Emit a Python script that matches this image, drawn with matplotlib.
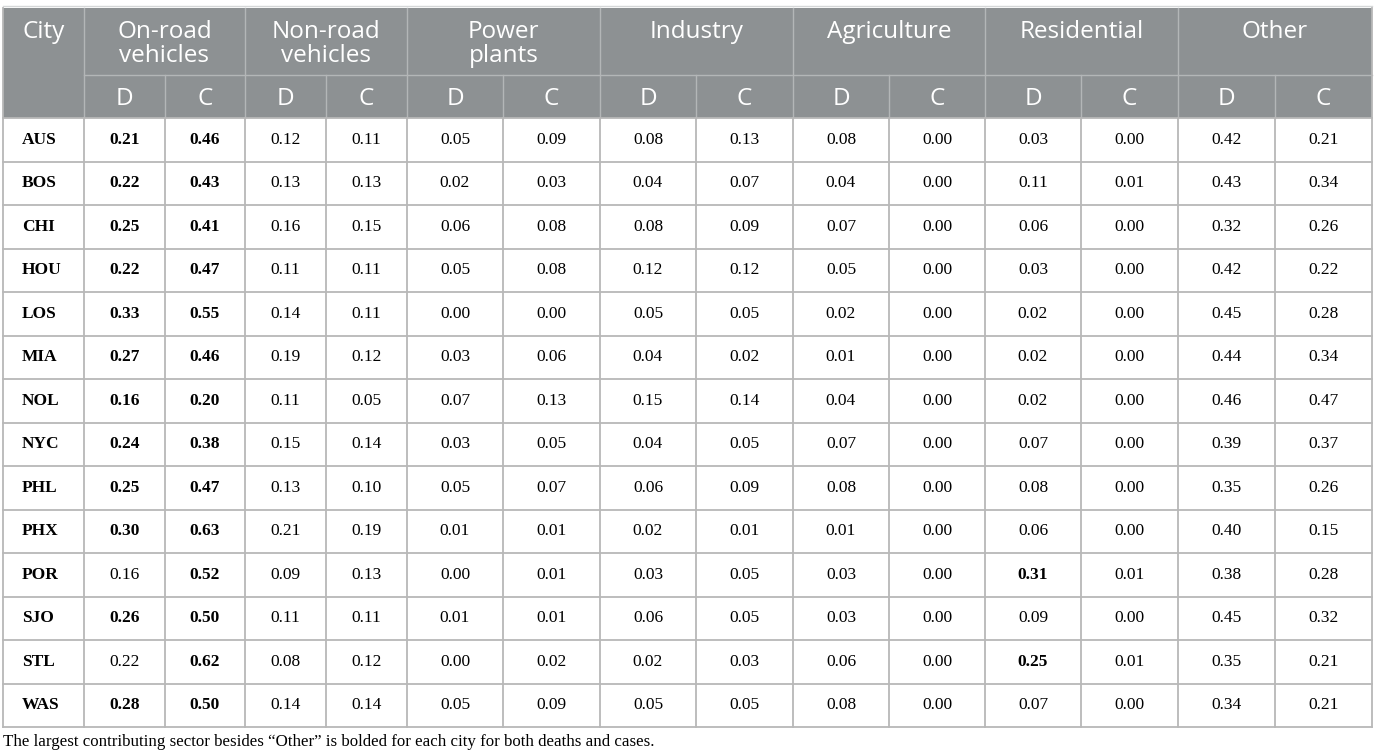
import matplotlib
matplotlib.use("Agg")
import matplotlib.pyplot as plt
from matplotlib.patches import Rectangle
import numpy as np

cities = ["AUS", "BOS", "CHI", "HOU", "LOS", "MIA", "NOL",
          "NYC", "PHL", "PHX", "POR", "SJO", "STL", "WAS"]
sectors = ["On-road\nvehicles", "Non-road\nvehicles", "Power\nplants",
           "Industry", "Agriculture", "Residential", "Other"]

# D = deaths, C = cases, one column per sector
deaths = np.array([
    [0.21, 0.12, 0.05, 0.08, 0.08, 0.03, 0.42],
    [0.22, 0.13, 0.02, 0.04, 0.04, 0.11, 0.43],
    [0.25, 0.16, 0.06, 0.08, 0.07, 0.06, 0.32],
    [0.22, 0.11, 0.05, 0.12, 0.05, 0.03, 0.42],
    [0.33, 0.14, 0.00, 0.05, 0.02, 0.02, 0.45],
    [0.27, 0.19, 0.03, 0.04, 0.01, 0.02, 0.44],
    [0.16, 0.11, 0.07, 0.15, 0.04, 0.02, 0.46],
    [0.24, 0.15, 0.03, 0.04, 0.07, 0.07, 0.39],
    [0.25, 0.13, 0.05, 0.06, 0.08, 0.08, 0.35],
    [0.30, 0.21, 0.01, 0.02, 0.01, 0.06, 0.40],
    [0.16, 0.09, 0.00, 0.03, 0.03, 0.31, 0.38],
    [0.26, 0.11, 0.01, 0.06, 0.03, 0.09, 0.45],
    [0.22, 0.08, 0.00, 0.02, 0.06, 0.25, 0.35],
    [0.28, 0.14, 0.05, 0.05, 0.08, 0.07, 0.34],
])
cases = np.array([
    [0.46, 0.11, 0.09, 0.13, 0.00, 0.00, 0.21],
    [0.43, 0.13, 0.03, 0.07, 0.00, 0.01, 0.34],
    [0.41, 0.15, 0.08, 0.09, 0.00, 0.00, 0.26],
    [0.47, 0.11, 0.08, 0.12, 0.00, 0.00, 0.22],
    [0.55, 0.11, 0.00, 0.05, 0.00, 0.00, 0.28],
    [0.46, 0.12, 0.06, 0.02, 0.00, 0.00, 0.34],
    [0.20, 0.05, 0.13, 0.14, 0.00, 0.00, 0.47],
    [0.38, 0.14, 0.05, 0.05, 0.00, 0.00, 0.37],
    [0.47, 0.10, 0.07, 0.09, 0.00, 0.00, 0.26],
    [0.63, 0.19, 0.01, 0.01, 0.00, 0.00, 0.15],
    [0.52, 0.13, 0.01, 0.05, 0.00, 0.01, 0.28],
    [0.50, 0.11, 0.01, 0.05, 0.00, 0.00, 0.32],
    [0.62, 0.12, 0.02, 0.03, 0.00, 0.01, 0.21],
    [0.50, 0.14, 0.09, 0.05, 0.00, 0.00, 0.21],
])
caption = ("The largest contributing sector besides \u201cOther\u201d is bolded "
           "for each city for both deaths and cases.")

# layout in pixel units
edges = [3, 84, 165, 245, 326, 407, 503, 600, 696, 793, 889, 985, 1081, 1178, 1275, 1372]
y_top, y_mid, y_data = 8, 75, 118
row_h = 43.5

head_bg = "#8d9193"
head_line = "#b3b6b7"
grid = "#b8b8b8"
sans = "Open Sans"
serif = "Liberation Serif"
hsize = 17.5
dsize = 12.5

fig = plt.figure(figsize=(13.75, 7.52), dpi=100)
ax = fig.add_axes([0, 0, 1, 1])
ax.set_xlim(0, 1375)
ax.set_ylim(752, 0)
ax.axis("off")

# header block
ax.add_patch(Rectangle((edges[0], y_top), edges[-1] - edges[0], y_data - y_top,
                       facecolor=head_bg, edgecolor="none"))
ax.plot([edges[0], edges[-1]], [y_top - 2, y_top - 2], color="#d5d7d8", lw=1)
ax.text((edges[0] + edges[1]) / 2, 20, "City", color="white", fontsize=hsize,
        family=sans, ha="center", va="top")
for k, name in enumerate(sectors):
    x0, x1, x2 = edges[1 + 2 * k], edges[2 + 2 * k], edges[3 + 2 * k]
    ax.text((x0 + x2) / 2, 20, name, color="white", fontsize=hsize, family=sans,
            ha="center", va="top", linespacing=1.0)
    ax.text((x0 + x1) / 2, 99, "D", color="white", fontsize=hsize, family=sans,
            ha="center", va="center")
    ax.text((x1 + x2) / 2, 99, "C", color="white", fontsize=hsize, family=sans,
            ha="center", va="center")
    ax.plot([x1, x1], [y_mid, y_data], color=head_line, lw=1)
    ax.plot([x0, x0], [y_top, y_data], color=head_line, lw=1)
ax.plot([edges[1], edges[-1]], [y_mid, y_mid], color=head_line, lw=1)

# body
n = len(cities)
y_bot = y_data + n * row_h
for i in range(n + 1):
    y = y_data + i * row_h
    ax.plot([edges[0], edges[-1]], [y, y], color=grid, lw=1.3)
for x in edges:
    ax.plot([x, x], [y_data, y_bot], color=grid, lw=1.3)
for x in (edges[0], edges[-1]):
    ax.plot([x, x], [y_top, y_data], color=grid, lw=1.3)

# bold = largest sector other than "Other"
bold_d = np.argmax(deaths[:, :-1], axis=1)
bold_c = np.argmax(cases[:, :-1], axis=1)

for i, city in enumerate(cities):
    yc = y_data + (i + 0.5) * row_h
    ax.text(edges[0] + 19, yc, city, fontsize=dsize, family=serif,
            weight="bold", ha="left", va="center")
    for k in range(len(sectors)):
        x0, x1, x2 = edges[1 + 2 * k], edges[2 + 2 * k], edges[3 + 2 * k]
        ax.text((x0 + x1) / 2, yc, f"{deaths[i, k]:.2f}", fontsize=dsize,
                family=serif, ha="center", va="center",
                weight="bold" if bold_d[i] == k else "normal")
        ax.text((x1 + x2) / 2, yc, f"{cases[i, k]:.2f}", fontsize=dsize,
                family=serif, ha="center", va="center",
                weight="bold" if bold_c[i] == k else "normal")

ax.text(edges[0], 742, caption, fontsize=12.2, family=serif, ha="left", va="center")

fig.savefig("out.png", dpi=100)
